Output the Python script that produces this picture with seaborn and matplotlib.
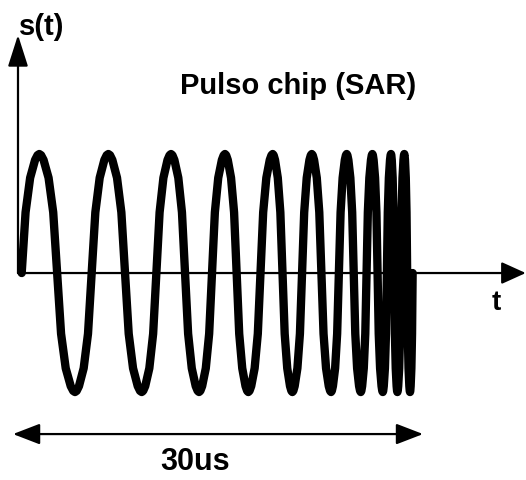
import numpy as np
import pandas as pd
import matplotlib
matplotlib.use("Agg")
import matplotlib.pyplot as plt
import seaborn as sns

sns.set_theme(style="white")
plt.rcParams['font.family'] = ['Liberation Sans', 'DejaVu Sans']
plt.rcParams['text.color'] = 'black'

# Chirp pulse: times (us) of start, alternating peaks/troughs, end
extrema_t = [0.0, 1.35, 4.09, 6.65, 9.21, 11.46, 13.61, 15.60, 17.39, 19.26, 20.77,
             22.26, 23.74, 24.94, 26.02, 26.91, 27.71, 28.34, 28.83, 29.36, 29.80, 30.0]
extrema_s = [0, 1, -1, 1, -1, 1, -1, 1, -1, 1, -1,
             1, -1, 1, -1, 1, -1, 1, -1, 1, -1, 0]
# shape of one half-swing between a peak and the next trough (fraction of span, level)
profile_f = [0.0, 0.05, 0.12, 0.26, 0.39, 0.5, 0.61, 0.74, 0.88, 0.95, 1.0]
profile_g = [1.0, 0.99, 0.95, 0.80, 0.51, 0.0, -0.51, -0.80, -0.95, -0.99, -1.0]

pulse_len_label = "30us"
title = "Pulso chip (SAR)"
ylabel = "s(t)"
xlabel = "t"

pts_t, pts_s = [], []
for i in range(len(extrema_t) - 1):
    t0, t1 = extrema_t[i], extrema_t[i + 1]
    s0, s1 = extrema_s[i], extrema_s[i + 1]
    for f, g in zip(profile_f, profile_g):
        if s0 != 0 and s1 != 0:
            ff, val = f, s0 * g
        elif s0 == 0:
            if f < 0.5:
                continue
            ff, val = (f - 0.5) / 0.5, -s1 * g
        else:
            if f > 0.5:
                continue
            ff, val = f / 0.5, s0 * g
        if pts_t and i > 0 and ff == 0:
            continue
        pts_t.append(t0 + ff * (t1 - t0))
        pts_s.append(val)

df = pd.DataFrame({"t": pts_t, "s": pts_s})

fig = plt.figure(figsize=(5.26, 4.8), dpi=100)
ax = fig.add_axes([0, 0, 1, 1])

sns.lineplot(data=df, x="t", y="s", sort=False, estimator=None, ax=ax,
             color='black', linewidth=6, solid_capstyle='round',
             solid_joinstyle='round', legend=False, zorder=3)

ax.set_xlim(-1.665, 38.70)
ax.set_ylim(-1.739, 2.294)
ax.axis('off')

# axes arrows
ax.annotate('', xy=(38.68, 0), xytext=(-0.284, 0), annotation_clip=False,
            arrowprops=dict(arrowstyle='-|>,head_length=0.75,head_width=0.34',
                            mutation_scale=20, lw=1.6, color='black',
                            shrinkA=0, shrinkB=0))
ax.annotate('', xy=(-0.284, 2.0), xytext=(-0.284, 0), annotation_clip=False,
            arrowprops=dict(arrowstyle='-|>,head_length=0.97,head_width=0.31',
                            mutation_scale=20, lw=1.6, color='black',
                            shrinkA=0, shrinkB=0))

# pulse length arrow
ax.annotate('', xy=(30.8, -1.353), xytext=(-0.668, -1.353), annotation_clip=False,
            arrowprops=dict(arrowstyle='<|-|>,head_length=0.83,head_width=0.32',
                            mutation_scale=20, lw=1.6, color='black',
                            shrinkA=0, shrinkB=0))

ax.text(1.56, 2.07, ylabel, fontsize=21, fontweight='bold', ha='center', va='center',
        color='black')
ax.text(21.2, 1.571, title, fontsize=21, fontweight='bold', ha='center', va='center',
        color='black')
ax.text(36.4, -0.252, xlabel, fontsize=20, fontweight='bold', ha='center', va='center',
        color='black')
ax.text(13.3, -1.588, pulse_len_label, fontsize=22, fontweight='bold', ha='center',
        va='center', color='black')

fig.savefig("out.png", dpi=100)
